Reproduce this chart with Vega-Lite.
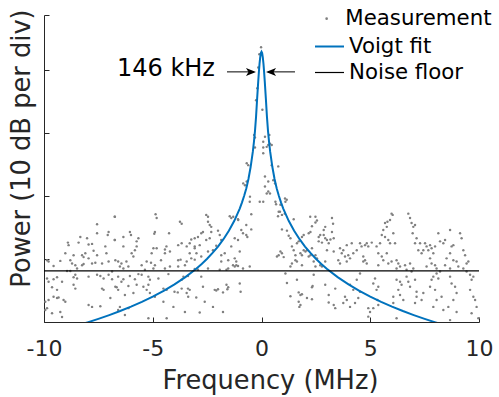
{
  "$schema": "https://vega.github.io/schema/vega-lite/v6.json",
  "width": 435,
  "height": 307,
  "autosize": {"type": "none"},
  "padding": {"left": 44, "top": 15, "right": 20, "bottom": 75},
  "background": "white",
  "config": {"font": "DejaVu Sans", "view": {"stroke": null}, "axis": {"grid": false},
    "legend": {"labelFontSize": 21.3, "labelColor": "#000000", "labelFont": "DejaVu Sans", "padding": 0, "rowPadding": 0, "orient": "none"}},
  "datasets": {
    "meas": [
      {"f":-6.75,"p":16.7},{"f":-7.56,"p":15.5},{"f":-7.03,"p":14.3},{"f":-7.07,"p":13.8},{"f":-7.56,"p":14.1},{"f":-8.33,"p":13.5},{"f":-8.02,"p":13.3},{"f":-6.75,"p":13.0},{"f":-8.90,"p":12.6},{"f":-8.87,"p":12.2},{"f":-8.41,"p":12.6},{"f":-7.95,"p":12.3},{"f":-7.79,"p":12.4},{"f":-7.18,"p":12.0},{"f":-7.72,"p":11.3},{"f":-8.10,"p":10.9},{"f":-8.25,"p":10.6},{"f":-8.18,"p":10.3},{"f":-9.02,"p":10.9},{"f":-8.64,"p":10.6},{"f":-7.13,"p":10.9},{"f":-7.56,"p":10.6},{"f":-9.86,"p":9.8},{"f":-9.79,"p":9.6},{"f":-9.25,"p":9.7},{"f":-8.79,"p":9.8},{"f":-7.95,"p":10.1},{"f":-8.71,"p":9.3},{"f":-8.56,"p":9.0},{"f":-7.79,"p":9.3},{"f":-7.64,"p":9.4},{"f":-7.03,"p":9.6},{"f":-6.72,"p":9.8},{"f":-9.56,"p":8.9},{"f":-8.25,"p":9.0},{"f":-8.18,"p":9.2},{"f":-7.33,"p":9.3},{"f":-8.94,"p":8.1},{"f":-8.79,"p":8.1},{"f":-8.48,"p":8.5},{"f":-6.87,"p":8.0},{"f":-9.86,"p":6.9},{"f":-9.56,"p":6.8},{"f":-9.40,"p":7.1},{"f":-9.79,"p":6.4},{"f":-9.17,"p":6.4},{"f":-8.64,"p":7.1},{"f":-8.56,"p":7.5},{"f":-8.48,"p":6.9},{"f":-7.95,"p":7.2},{"f":-7.56,"p":7.5},{"f":-7.41,"p":7.3},{"f":-7.26,"p":6.9},{"f":-7.03,"p":7.5},{"f":-6.87,"p":6.8},{"f":-9.63,"p":5.5},{"f":-9.40,"p":5.1},{"f":-7.33,"p":5.3},{"f":-7.26,"p":5.1},{"f":-6.72,"p":5.6},{"f":-9.56,"p":4.0},{"f":-9.40,"p":3.8},{"f":-9.33,"p":3.9},{"f":-9.79,"p":3.5},{"f":-9.94,"p":3.2},{"f":-9.10,"p":3.5},{"f":-9.02,"p":3.2},{"f":-6.95,"p":3.8},{"f":-7.95,"p":2.7},{"f":-7.79,"p":2.4},{"f":-7.41,"p":2.5},{"f":-9.86,"p":2.2},{"f":-9.94,"p":1.9},{"f":-9.25,"p":1.6},{"f":-9.63,"p":1.4},{"f":-9.17,"p":0.8},{"f":-8.56,"p":5.3},{"f":-8.64,"p":5.9},
      {"f":-4.87,"p":17.1},{"f":-4.82,"p":16.5},{"f":-3.75,"p":15.9},{"f":-3.67,"p":15.6},{"f":-6.74,"p":16.7},{"f":-6.05,"p":14.3},{"f":-6.00,"p":13.8},{"f":-4.90,"p":14.3},{"f":-4.93,"p":14.0},{"f":-4.25,"p":14.1},{"f":-6.35,"p":13.5},{"f":-5.66,"p":13.3},{"f":-5.74,"p":12.8},{"f":-6.74,"p":13.0},{"f":-6.35,"p":12.0},{"f":-5.74,"p":12.0},{"f":-5.82,"p":11.4},{"f":-4.97,"p":11.7},{"f":-4.82,"p":11.7},{"f":-4.44,"p":11.5},{"f":-4.37,"p":12.0},{"f":-3.83,"p":12.2},{"f":-3.67,"p":12.5},{"f":-3.44,"p":12.0},{"f":-5.97,"p":10.9},{"f":-5.89,"p":10.4},{"f":-5.05,"p":10.9},{"f":-4.44,"p":10.9},{"f":-4.21,"p":11.2},{"f":-3.83,"p":9.8},{"f":-3.72,"p":9.9},{"f":-6.59,"p":9.6},{"f":-6.44,"p":9.3},{"f":-6.21,"p":9.6},{"f":-5.28,"p":9.6},{"f":-5.08,"p":9.4},{"f":-4.62,"p":9.8},{"f":-3.44,"p":9.6},{"f":-3.52,"p":9.0},{"f":-6.51,"p":8.8},{"f":-6.35,"p":8.5},{"f":-6.12,"p":8.8},{"f":-5.51,"p":9.0},{"f":-5.36,"p":8.3},{"f":-4.90,"p":9.0},{"f":-4.97,"p":8.5},{"f":-4.21,"p":8.8},{"f":-4.44,"p":8.5},{"f":-3.83,"p":8.8},{"f":-6.59,"p":7.2},{"f":-6.44,"p":6.4},{"f":-6.35,"p":6.8},{"f":-6.05,"p":7.3},{"f":-5.82,"p":6.8},{"f":-5.66,"p":7.6},{"f":-5.51,"p":7.5},{"f":-5.20,"p":7.2},{"f":-5.13,"p":6.7},{"f":-4.74,"p":6.9},{"f":-4.28,"p":7.6},{"f":-3.67,"p":6.7},{"f":-3.59,"p":7.2},{"f":-6.66,"p":5.5},{"f":-6.59,"p":5.1},{"f":-6.12,"p":5.7},{"f":-5.74,"p":5.9},{"f":-5.43,"p":5.6},{"f":-5.28,"p":5.1},{"f":-5.20,"p":5.9},{"f":-4.51,"p":5.3},{"f":-4.36,"p":5.1},{"f":-4.00,"p":4.8},{"f":-3.85,"p":4.7},{"f":-3.67,"p":5.3},{"f":-3.44,"p":4.6},{"f":-5.89,"p":4.6},{"f":-5.13,"p":4.6},{"f":-4.90,"p":4.0},{"f":-3.37,"p":4.0},{"f":-6.28,"p":4.3},{"f":-4.51,"p":3.2},{"f":-4.05,"p":2.4},{"f":-6.51,"p":2.4},{"f":-6.59,"p":1.9},{"f":-6.12,"p":2.2},{"f":-3.52,"p":1.6},{"f":-5.20,"p":0.6},{"f":-4.36,"p":0.6},{"f":-6.28,"p":1.1},
      {"f":-0.54,"p":19.1},{"f":-0.08,"p":19.1},{"f":-0.47,"p":17.1},{"f":-2.54,"p":17.0},{"f":-2.46,"p":16.7},{"f":-1.46,"p":16.8},{"f":-1.39,"p":16.5},{"f":-1.08,"p":16.3},{"f":-2.46,"p":15.9},{"f":-2.38,"p":15.4},{"f":-2.31,"p":15.1},{"f":-2.69,"p":14.3},{"f":-2.77,"p":14.1},{"f":-2.31,"p":14.3},{"f":-2.00,"p":14.5},{"f":-1.92,"p":13.8},{"f":-0.70,"p":15.4},{"f":-0.93,"p":14.6},{"f":-0.85,"p":14.1},{"f":-0.70,"p":13.8},{"f":-0.65,"p":13.5},{"f":-1.23,"p":13.3},{"f":-1.08,"p":13.0},{"f":-0.47,"p":14.7},{"f":-3.23,"p":13.1},{"f":-3.07,"p":13.3},{"f":-2.92,"p":13.5},{"f":-2.54,"p":13.0},{"f":-2.38,"p":13.3},{"f":-1.85,"p":13.0},{"f":-3.30,"p":12.5},{"f":-3.07,"p":12.0},{"f":-2.84,"p":12.2},{"f":-2.08,"p":12.1},{"f":-1.39,"p":12.0},{"f":-3.07,"p":11.7},{"f":-2.99,"p":10.9},{"f":-3.30,"p":10.9},{"f":-2.46,"p":11.2},{"f":-2.23,"p":11.4},{"f":-1.85,"p":10.6},{"f":-1.69,"p":10.9},{"f":-1.00,"p":11.2},{"f":-3.23,"p":10.1},{"f":-3.07,"p":9.9},{"f":-2.77,"p":10.4},{"f":-1.85,"p":9.6},{"f":-1.23,"p":10.1},{"f":-1.16,"p":9.6},{"f":-1.53,"p":9.8},{"f":-0.54,"p":8.8},{"f":-1.31,"p":9.0},{"f":-1.23,"p":8.8},{"f":-1.16,"p":9.0},{"f":-1.08,"p":8.9},{"f":-2.46,"p":8.5},{"f":-2.92,"p":8.3},{"f":-3.07,"p":8.4},{"f":-1.92,"p":8.3},{"f":-1.61,"p":8.3},{"f":-1.53,"p":8.5},{"f":-0.85,"p":8.5},{"f":-3.38,"p":7.3},{"f":-2.77,"p":7.2},{"f":-3.38,"p":5.3},{"f":-3.30,"p":5.1},{"f":-2.69,"p":5.6},{"f":-2.15,"p":5.1},{"f":-2.08,"p":5.0},{"f":-2.00,"p":5.2},{"f":-1.77,"p":4.7},{"f":-1.61,"p":5.9},{"f":-1.53,"p":5.5},{"f":-1.57,"p":5.2},{"f":-1.00,"p":6.1},{"f":-0.96,"p":4.8},{"f":-3.00,"p":3.9},{"f":-2.61,"p":3.2},{"f":-2.23,"p":2.4},{"f":-2.84,"p":1.5},{"f":-1.77,"p":1.6},
      {"f":0.64,"p":19.1},{"f":0.67,"p":18.7},{"f":0.87,"p":18.6},{"f":1.10,"p":19.1},{"f":0.79,"p":17.5},{"f":0.76,"p":16.8},{"f":0.94,"p":17.0},{"f":1.07,"p":17.2},{"f":2.24,"p":16.7},{"f":2.48,"p":16.7},{"f":2.55,"p":16.1},{"f":3.24,"p":16.5},{"f":3.29,"p":15.6},{"f":1.48,"p":16.3},{"f":2.32,"p":15.2},{"f":2.48,"p":15.8},{"f":2.93,"p":15.1},{"f":2.86,"p":14.6},{"f":0.94,"p":14.7},{"f":1.17,"p":14.5},{"f":3.24,"p":14.3},{"f":2.17,"p":14.1},{"f":2.25,"p":14.3},{"f":1.94,"p":13.8},{"f":1.86,"p":13.5},{"f":1.25,"p":13.7},{"f":1.33,"p":13.3},{"f":2.63,"p":13.5},{"f":2.70,"p":13.8},{"f":2.86,"p":13.8},{"f":2.93,"p":13.3},{"f":3.01,"p":13.0},{"f":3.17,"p":13.1},{"f":3.32,"p":13.3},{"f":1.63,"p":12.5},{"f":1.71,"p":12.8},{"f":2.63,"p":12.8},{"f":2.78,"p":12.6},{"f":3.09,"p":12.5},{"f":1.40,"p":12.0},{"f":1.48,"p":11.4},{"f":1.94,"p":11.4},{"f":2.02,"p":11.2},{"f":2.09,"p":11.4},{"f":1.79,"p":10.9},{"f":1.86,"p":10.6},{"f":2.32,"p":11.7},{"f":0.87,"p":11.2},{"f":0.94,"p":10.9},{"f":0.79,"p":10.6},{"f":0.71,"p":10.4},{"f":1.02,"p":10.3},{"f":1.56,"p":10.6},{"f":2.17,"p":10.4},{"f":2.25,"p":10.6},{"f":2.48,"p":10.6},{"f":2.55,"p":10.1},{"f":3.01,"p":11.4},{"f":3.32,"p":11.2},{"f":1.40,"p":9.3},{"f":1.33,"p":8.8},{"f":1.56,"p":9.8},{"f":1.63,"p":9.6},{"f":1.86,"p":9.0},{"f":2.40,"p":9.6},{"f":2.70,"p":9.0},{"f":2.78,"p":8.8},{"f":2.93,"p":9.6},{"f":2.48,"p":8.8},{"f":1.10,"p":7.7},{"f":1.17,"p":6.2},{"f":1.63,"p":6.7},{"f":2.40,"p":7.5},{"f":2.93,"p":5.9},{"f":3.39,"p":5.3},{"f":2.32,"p":5.5},{"f":2.35,"p":5.7},{"f":1.33,"p":4.1},{"f":1.71,"p":4.7},{"f":1.79,"p":4.3},{"f":1.86,"p":4.4},{"f":2.09,"p":3.8},{"f":2.32,"p":3.6},{"f":1.71,"p":3.2},{"f":1.79,"p":2.7},{"f":1.74,"p":2.4},{"f":3.09,"p":4.3},{"f":3.32,"p":2.7},{"f":3.39,"p":2.2},{"f":3.09,"p":3.1},
      {"f":-0.02,"p":43.6},{"f":-0.10,"p":42.5},{"f":-0.15,"p":40.4},{"f":-0.19,"p":37.1},{"f":-0.25,"p":35.2},{"f":0.04,"p":33.7},{"f":-0.34,"p":29.7},{"f":-0.30,"p":29.3},{"f":0.36,"p":29.7},{"f":0.31,"p":28.1},{"f":0.08,"p":27.7},{"f":0.39,"p":28.3},{"f":-0.30,"p":27.7},{"f":0.08,"p":28.6},{"f":0.08,"p":26.8},{"f":-0.68,"p":25.2},{"f":-0.61,"p":24.9},{"f":0.47,"p":24.9},{"f":0.77,"p":24.7},{"f":-0.84,"p":22.0},{"f":-0.76,"p":21.7},{"f":-0.68,"p":22.3},{"f":0.16,"p":23.1},{"f":0.54,"p":22.5},{"f":0.62,"p":22.0},{"f":0.31,"p":20.7},{"f":0.39,"p":20.4},{"f":-0.53,"p":19.9},{"f":0.08,"p":19.1},{"f":1.08,"p":19.6},{"f":1.16,"p":19.4},{"f":0.85,"p":17.5},{"f":-1.30,"p":16.7},{"f":-1.07,"p":16.2},{"f":0.16,"p":29.4},{"f":0.24,"p":27.8},{"f":0.47,"p":28.1},{"f":0.31,"p":22.3},{"f":0.16,"p":21.5},{"f":0.24,"p":20.4},
      {"f":3.61,"p":11.7},{"f":3.69,"p":10.9},{"f":3.76,"p":11.4},{"f":3.92,"p":12.2},{"f":3.84,"p":10.4},{"f":3.99,"p":10.6},{"f":4.07,"p":10.1},{"f":3.92,"p":9.6},{"f":3.53,"p":9.8},{"f":3.61,"p":9.3},{"f":4.15,"p":12.5},{"f":4.22,"p":10.9},{"f":4.38,"p":11.4},{"f":4.53,"p":12.5},{"f":4.60,"p":12.0},{"f":4.76,"p":12.2},{"f":4.84,"p":12.5},{"f":4.91,"p":12.0},{"f":5.07,"p":12.6},{"f":4.68,"p":9.6},{"f":4.76,"p":9.8},{"f":4.84,"p":9.3},{"f":4.68,"p":10.4},{"f":4.53,"p":7.7},{"f":4.38,"p":6.7},{"f":4.07,"p":5.9},{"f":4.22,"p":5.1},{"f":4.45,"p":3.8},{"f":4.30,"p":3.0},{"f":3.92,"p":3.5},{"f":3.84,"p":4.0},{"f":3.76,"p":3.0},{"f":4.53,"p":4.8},{"f":4.07,"p":2.4},{"f":4.91,"p":2.2},{"f":4.99,"p":1.6},{"f":4.91,"p":0.85},{"f":5.22,"p":6.9},{"f":5.14,"p":6.1},{"f":5.29,"p":5.1},{"f":5.37,"p":5.6},{"f":5.33,"p":3.5},{"f":5.37,"p":2.7},{"f":5.14,"p":2.2},{"f":5.37,"p":9.0},{"f":5.37,"p":10.9},{"f":5.29,"p":12.0},{"f":5.45,"p":12.5},{"f":5.53,"p":13.8},{"f":5.60,"p":14.6},{"f":5.68,"p":15.7},{"f":5.76,"p":15.1},{"f":5.79,"p":15.9},{"f":5.91,"p":16.2},{"f":5.98,"p":17.2},{"f":6.03,"p":17.0},{"f":5.68,"p":13.5},{"f":5.83,"p":13.0},{"f":5.91,"p":12.5},{"f":6.06,"p":14.1},{"f":6.14,"p":12.5},{"f":5.53,"p":10.4},{"f":5.60,"p":9.8},{"f":5.76,"p":10.9},{"f":5.83,"p":9.3},{"f":5.98,"p":9.6},{"f":6.21,"p":9.8},{"f":6.29,"p":9.3},{"f":6.37,"p":8.8},{"f":6.21,"p":8.5},{"f":6.21,"p":6.7},{"f":6.37,"p":6.4},{"f":6.44,"p":5.9},{"f":6.52,"p":3.5},{"f":6.29,"p":5.1},{"f":6.06,"p":4.0},{"f":6.37,"p":4.3},{"f":6.06,"p":3.0},{"f":6.21,"p":0.6},{"f":6.60,"p":9.0},{"f":6.67,"p":8.3},{"f":6.83,"p":9.3},{"f":6.98,"p":8.5},{"f":6.90,"p":8.0},{"f":6.75,"p":17.2},{"f":6.83,"p":16.5},{"f":6.90,"p":15.7},{"f":6.98,"p":15.1},{"f":7.06,"p":15.4},{"f":6.95,"p":14.1},{"f":7.06,"p":12.5},{"f":7.13,"p":13.3},{"f":7.29,"p":12.5},{"f":7.21,"p":11.4},{"f":7.36,"p":10.9},{"f":7.44,"p":11.4},{"f":6.67,"p":7.2},{"f":6.75,"p":6.4},{"f":6.83,"p":5.6},{"f":7.06,"p":6.7},{"f":7.13,"p":4.8},{"f":7.13,"p":4.0},{"f":7.06,"p":3.0},{"f":7.36,"p":3.5},{"f":7.44,"p":4.6},{"f":7.52,"p":12.5},{"f":7.59,"p":12.0},{"f":7.67,"p":11.4},{"f":7.75,"p":12.2},{"f":7.82,"p":11.7},{"f":7.98,"p":12.0},{"f":7.90,"p":10.9},{"f":7.75,"p":10.1},{"f":7.82,"p":9.3},{"f":7.98,"p":9.0},{"f":8.05,"p":8.5},{"f":7.59,"p":8.8},{"f":7.90,"p":7.2},{"f":7.82,"p":6.7},{"f":8.05,"p":7.7},{"f":8.21,"p":8.0},{"f":8.13,"p":6.9},{"f":7.75,"p":5.6},{"f":7.98,"p":5.1},{"f":8.28,"p":4.0},{"f":8.05,"p":3.5},{"f":7.90,"p":2.4},{"f":8.36,"p":1.9},{"f":8.13,"p":14.1},{"f":8.21,"p":12.8},{"f":8.36,"p":12.5},{"f":8.44,"p":13.0},{"f":8.67,"p":14.6},{"f":8.74,"p":12.0},{"f":8.82,"p":12.2},{"f":8.67,"p":10.9},{"f":8.51,"p":10.1},{"f":8.44,"p":9.0},{"f":8.67,"p":8.5},{"f":8.82,"p":9.8},{"f":8.97,"p":9.6},{"f":9.05,"p":8.8},{"f":8.67,"p":7.2},{"f":8.74,"p":6.1},{"f":8.90,"p":5.6},{"f":8.97,"p":4.6},{"f":8.82,"p":3.5},{"f":8.59,"p":2.4},{"f":8.97,"p":1.6},{"f":8.67,"p":0.3},{"f":9.13,"p":14.1},{"f":9.20,"p":13.3},{"f":9.28,"p":11.4},{"f":9.36,"p":10.6},{"f":9.43,"p":9.3},{"f":9.51,"p":9.6},{"f":9.28,"p":8.5},{"f":9.43,"p":8.0},{"f":9.59,"p":7.5},{"f":9.66,"p":6.7},{"f":9.74,"p":7.2},{"f":9.59,"p":5.1},{"f":9.74,"p":4.0},{"f":9.82,"p":3.5},{"f":9.89,"p":2.4},{"f":9.66,"p":1.4},{"f":9.97,"p":0.6}
    ],
    "fit": [
      {"f":-10,"p":-2.0},{"f":-9,"p":-1.08},{"f":-8.5,"p":-0.59},{"f":-8,"p":-0.06},{"f":-7.5,"p":0.5},{"f":-7,"p":1.1},{"f":-6.5,"p":1.74},{"f":-6,"p":2.44},{"f":-5.5,"p":3.19},{"f":-5,"p":4.02},{"f":-4.5,"p":4.94},{"f":-4,"p":5.96},{"f":-3.5,"p":7.12},{"f":-3,"p":8.46},{"f":-2.75,"p":9.21},{"f":-2.5,"p":10.04},{"f":-2.25,"p":10.96},{"f":-2,"p":11.98},{"f":-1.75,"p":13.14},{"f":-1.5,"p":14.48},{"f":-1.25,"p":16.06},{"f":-1,"p":18.0},{"f":-0.9,"p":18.95},{"f":-0.8,"p":20.0},{"f":-0.7,"p":21.2},{"f":-0.6,"p":22.7},{"f":-0.5,"p":24.6},{"f":-0.4,"p":27.0},{"f":-0.35,"p":28.5},{"f":-0.3,"p":30.3},{"f":-0.25,"p":32.6},{"f":-0.2,"p":35.5},{"f":-0.15,"p":38.2},{"f":-0.12,"p":39.7},{"f":-0.09,"p":41.0},{"f":-0.06,"p":42.0},{"f":-0.03,"p":42.7},{"f":0,"p":42.9},
      {"f":0.03,"p":42.7},{"f":0.06,"p":42.0},{"f":0.09,"p":41.0},{"f":0.12,"p":39.7},{"f":0.15,"p":38.2},{"f":0.2,"p":35.5},{"f":0.25,"p":32.6},{"f":0.3,"p":30.3},{"f":0.35,"p":28.5},{"f":0.4,"p":27.0},{"f":0.5,"p":24.6},{"f":0.6,"p":22.7},{"f":0.7,"p":21.2},{"f":0.8,"p":20.0},{"f":0.9,"p":18.95},{"f":1,"p":18.0},{"f":1.25,"p":16.06},{"f":1.5,"p":14.48},{"f":1.75,"p":13.14},{"f":2,"p":11.98},{"f":2.25,"p":10.96},{"f":2.5,"p":10.04},{"f":2.75,"p":9.21},{"f":3,"p":8.46},{"f":3.5,"p":7.12},{"f":4,"p":5.96},{"f":4.5,"p":4.94},{"f":5,"p":4.02},{"f":5.5,"p":3.19},{"f":6,"p":2.44},{"f":6.5,"p":1.74},{"f":7,"p":1.1},{"f":7.5,"p":0.5},{"f":8,"p":-0.06},{"f":8.5,"p":-0.59},{"f":9,"p":-1.08},{"f":10,"p":-2.0}
    ],
    "floor": [{"f":-10,"p":8.1},{"f":10,"p":8.1}]
  },
  "encoding": {
    "x": {"field": "f", "type": "quantitative",
      "scale": {"domain": [-10, 10], "nice": false, "zero": false},
      "axis": {"values": [-10, -5, 0, 5, 10], "labelExpr": "toString(datum.value)", "labelFontSize": 22, "labelColor": "#262626", "labelFlush": false,
        "tickSize": -5, "tickColor": "#262626", "domainColor": "#262626", "labelPadding": 21,
        "title": "Frequency (MHz)", "titleFontSize": 25.7, "titleFontWeight": "normal", "titleColor": "#262626",
        "titleX": 226, "titleY": 46, "titleBaseline": "top"}},
    "y": {"field": "p", "type": "quantitative",
      "scale": {"domain": [0, 48.73], "nice": false, "zero": false},
      "axis": {"values": [0, 10, 20, 30, 40, 48.73], "labels": false, "tickSize": -5, "tickColor": "#262626", "domainColor": "#262626",
        "title": "Power (10 dB per div)", "titleFontSize": 25.7, "titleFontWeight": "normal", "titleColor": "#262626",
        "titleX": -10, "titleY": 133}}
  },
  "layer": [
    {"data": {"name": "meas"},
     "mark": {"type": "point", "filled": true, "size": 6, "opacity": 1},
     "encoding": {"fill": {"datum": "Measurement", "type": "nominal",
        "scale": {"domain": ["Measurement"], "range": ["#808080"]},
        "legend": {"title": null, "orient": "none", "legendX": 272, "legendY": -7,
          "symbolType": "circle", "symbolSize": 7, "labelOffset": 8}}}},
    {"data": {"name": "fit"},
     "mark": {"type": "line", "strokeWidth": 2, "clip": true},
     "encoding": {"stroke": {"datum": "Voigt fit", "type": "nominal",
        "scale": {"domain": ["Voigt fit"], "range": ["#0072BD"]},
        "legend": {"title": null, "orient": "none", "legendX": 270, "legendY": 16,
          "symbolType": "stroke", "symbolSize": 841, "symbolStrokeWidth": 2, "labelOffset": 4}}}},
    {"data": {"name": "floor"},
     "mark": {"type": "line", "strokeWidth": 1.2},
     "encoding": {"color": {"datum": "Noise floor", "type": "nominal",
        "scale": {"domain": ["Noise floor"], "range": ["#000000"]},
        "legend": {"title": null, "orient": "none", "legendX": 270, "legendY": 42,
          "symbolType": "stroke", "symbolSize": 841, "symbolStrokeWidth": 1.2, "labelOffset": 4}}}},
    {"data": {"values": [{"f": -2.14, "p": 40.1, "label": "146 kHz"}]},
     "mark": {"type": "text", "align": "right", "baseline": "middle", "fontSize": 24, "font": "DejaVu Sans", "color": "#000000"},
     "encoding": {"text": {"field": "label"}}},
    {"data": {"values": [{"f": -1.586, "f2": -0.35, "p": 39.7}, {"f": 1.54, "f2": 0.3, "p": 39.7}]},
     "mark": {"type": "rule", "color": "#000000", "strokeWidth": 1},
     "encoding": {"x2": {"field": "f2"}}},
    {"data": {"values": [{"f": -0.483, "p": 39.7}]},
     "mark": {"type": "point", "filled": true, "color": "#000000", "opacity": 1, "size": 100, "shape": "M1,0 L-1,-0.8 L-0.5,0 L-1,0.8 Z"},
     "encoding": {}},
    {"data": {"values": [{"f": 0.437, "p": 39.7}]},
     "mark": {"type": "point", "filled": true, "color": "#000000", "opacity": 1, "size": 100, "shape": "M-1,0 L1,-0.8 L0.5,0 L1,0.8 Z"},
     "encoding": {}}
  ]
}
